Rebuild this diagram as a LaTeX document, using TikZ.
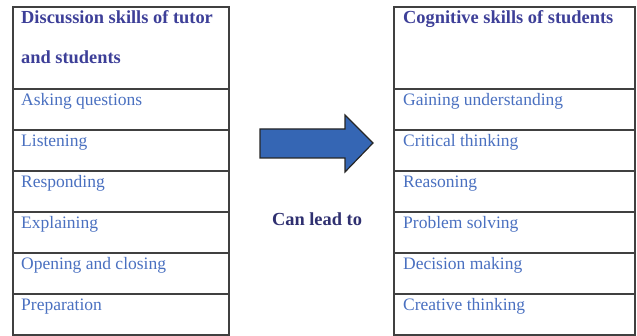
\documentclass[tikz,border=0pt]{standalone}
\usepackage{fontspec}
\setmainfont{Liberation Serif}
\definecolor{headblue}{HTML}{3D3F98}
\definecolor{itemblue}{HTML}{4A70C0}
\definecolor{leadblue}{HTML}{2F3070}
\definecolor{arrowblue}{HTML}{3566B4}
\definecolor{cellgray}{HTML}{404040}
\tikzset{
  cell/.style={draw=cellgray,line width=1.2pt},
  headtext/.style={anchor=base west,inner sep=0pt,align=left,text=headblue,
    font=\fontsize{18.4}{40}\selectfont\bfseries},
  itemtext/.style={anchor=base west,inner sep=0pt,text=itemblue,
    font=\fontsize{17.5}{20}\selectfont}
}
\begin{document}
\begin{tikzpicture}[x=1pt,y=-1pt]
\useasboundingbox (0,0) rectangle (637,336);

\draw[cell] (13,7) rectangle (229,89);
\draw[cell] (13,89) rectangle (229,130);
\draw[cell] (13,130) rectangle (229,171);
\draw[cell] (13,171) rectangle (229,212);
\draw[cell] (13,212) rectangle (229,253);
\draw[cell] (13,253) rectangle (229,294);
\draw[cell] (13,294) rectangle (229,335);
\node[headtext] (lhead) at (21,64) {Discussion skills of tutor\\and students};
\node[itemtext] (ask) at (21,106) {Asking questions};
\node[itemtext] (listen) at (21,147) {Listening};
\node[itemtext] (respond) at (21,188) {Responding};
\node[itemtext] (explain) at (21,229) {Explaining};
\node[itemtext] (open) at (21,270) {Opening and closing};
\node[itemtext] (prep) at (21,311) {Preparation};

\draw[cell] (394,7) rectangle (635,89);
\draw[cell] (394,89) rectangle (635,130);
\draw[cell] (394,130) rectangle (635,171);
\draw[cell] (394,171) rectangle (635,212);
\draw[cell] (394,212) rectangle (635,253);
\draw[cell] (394,253) rectangle (635,294);
\draw[cell] (394,294) rectangle (635,335);
\node[headtext] (rhead) at (403,24) {Cognitive skills of students};
\node[itemtext] (gain) at (403,106) {Gaining understanding};
\node[itemtext] (critical) at (403,147) {Critical thinking};
\node[itemtext] (reason) at (403,188) {Reasoning};
\node[itemtext] (problem) at (403,229) {Problem solving};
\node[itemtext] (decide) at (403,270) {Decision making};
\node[itemtext] (create) at (403,311) {Creative thinking};

\filldraw[fill=arrowblue,draw=black!85,line width=1.2pt,line join=miter]
  (260,129) -- (345,129) -- (345,115) -- (373,143) -- (345,172) -- (345,158) -- (260,158) -- cycle;
\node[anchor=base,inner sep=0pt,text=leadblue,font=\fontsize{18.4}{20}\selectfont\bfseries]
  (lead) at (317,226) {Can lead to};
\end{tikzpicture}
\end{document}
